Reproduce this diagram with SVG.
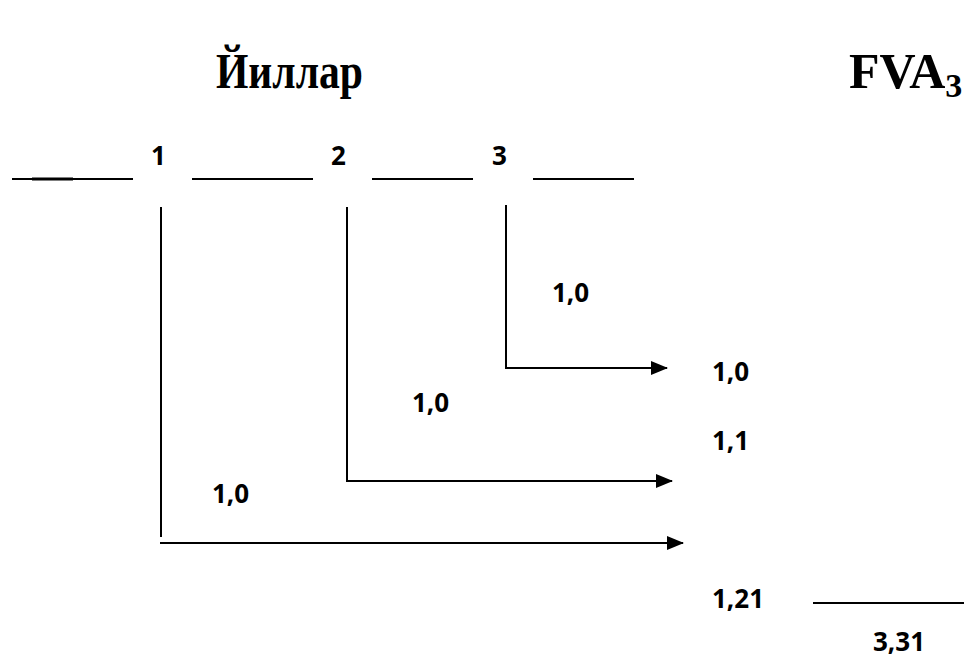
<svg xmlns="http://www.w3.org/2000/svg" width="964" height="659" viewBox="0 0 964 659">
<defs>
<marker id="ah" markerWidth="17" markerHeight="14" refX="16" refY="7" orient="auto" markerUnits="userSpaceOnUse">
<path d="M0,0 L17,7 L0,14 Z" fill="#000"/>
</marker>
<style>
.title{font-family:"Liberation Serif","Times New Roman",serif;font-weight:bold;font-size:50px;fill:#000}
.num{font-family:"Open Sans","Noto Sans",sans-serif;font-weight:bold;font-size:26px;fill:#000}
.ln{stroke:#000;stroke-width:2;fill:none}
</style>
</defs>
<rect width="964" height="659" fill="#fff"/>
<g id="titles">
<text class="title" x="216" y="88" textLength="147" lengthAdjust="spacingAndGlyphs">Йиллар</text>
<text class="title" x="849" y="88">FVA<tspan font-size="34" dy="9">3</tspan></text>
</g>
<g id="timeline">
<line class="ln" x1="12" y1="179" x2="133" y2="179"/>
<line x1="32" y1="179" x2="73" y2="179" stroke="#000" stroke-width="3"/>
<line class="ln" x1="192" y1="179" x2="313" y2="179"/>
<line class="ln" x1="372" y1="179" x2="473" y2="179"/>
<line class="ln" x1="533" y1="179" x2="634" y2="179"/>
</g>
<g id="node-1"><text class="num" x="151" y="165">1</text></g>
<g id="node-2"><text class="num" x="331" y="165">2</text></g>
<g id="node-3"><text class="num" x="492" y="165">3</text></g>
<g id="connectors">
<line class="ln" x1="161" y1="207" x2="161" y2="537"/>
<line class="ln" x1="160" y1="543" x2="683" y2="543" marker-end="url(#ah)"/>
<polyline class="ln" points="347,207 347,481 672,481" marker-end="url(#ah)"/>
<polyline class="ln" points="506,205 506,368 667,368" marker-end="url(#ah)"/>
</g>
<g id="labels">
<text class="num" x="552" y="302">1,0</text>
<text class="num" x="412" y="412">1,0</text>
<text class="num" x="212" y="503">1,0</text>
<text class="num" x="712" y="381">1,0</text>
<text class="num" x="712" y="450">1,1</text>
<text class="num" x="712" y="608">1,21</text>
<text class="num" x="873" y="651">3,31</text>
</g>
<g id="sum-line"><line class="ln" x1="813" y1="603" x2="964" y2="603"/></g>
</svg>
